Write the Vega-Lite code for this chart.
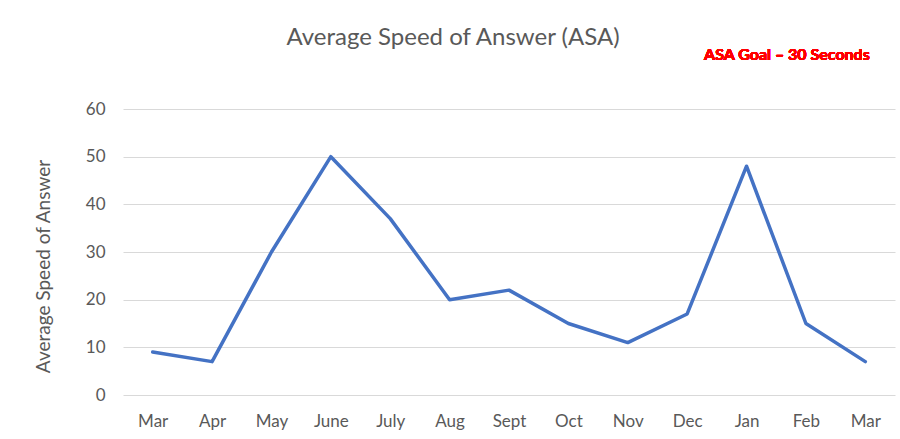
{
  "$schema": "https://vega.github.io/schema/vega-lite/v6.json",
  "width": 772,
  "height": 286,
  "autosize": "none",
  "padding": {"left": 123, "top": 109, "right": 5, "bottom": 44},
  "background": "white",
  "title": {
    "text": "Average Speed of Answer (ASA)",
    "anchor": "middle",
    "frame": "group",
    "dx": -56,
    "dy": 32,
    "offset": 10,
    "baseline": "alphabetic",
    "font": "Lato",
    "fontSize": 24,
    "fontWeight": "normal",
    "color": "#595959"
  },
  "config": {
    "view": {"stroke": null},
    "font": "Lato"
  },
  "data": {
    "values": [
      {"month": "Mar", "asa": 9},
      {"month": "Apr", "asa": 7},
      {"month": "May", "asa": 30},
      {"month": "June", "asa": 50},
      {"month": "July", "asa": 37},
      {"month": "Aug", "asa": 20},
      {"month": "Sept", "asa": 22},
      {"month": "Oct", "asa": 15},
      {"month": "Nov", "asa": 11},
      {"month": "Dec", "asa": 17},
      {"month": "Jan", "asa": 48},
      {"month": "Feb", "asa": 15},
      {"month": "Mar ", "asa": 7}
    ]
  },
  "layer": [
    {
      "mark": {"type": "line", "color": "#4472C4", "strokeWidth": 3.5, "strokeJoin": "round", "strokeCap": "round"},
      "encoding": {
        "x": {
          "field": "month",
          "type": "nominal",
          "sort": null,
          "scale": {"type": "point", "padding": 0.5},
          "axis": {
            "title": null,
            "labelAngle": 0,
            "domain": false,
            "ticks": false,
            "grid": false,
            "labelFontSize": 17,
            "labelColor": "#595959",
            "labelPadding": 18
          }
        },
        "y": {
          "field": "asa",
          "type": "quantitative",
          "scale": {"domain": [0, 60], "nice": false},
          "axis": {
            "title": "Average Speed of Answer",
            "values": [0, 10, 20, 30, 40, 50, 60],
            "domain": false,
            "ticks": false,
            "grid": true,
            "gridColor": "#d9d9d9",
            "gridWidth": 1,
            "labelFontSize": 17,
            "labelColor": "#595959",
            "labelPadding": 18,
            "titleFontSize": 19,
            "titleFontWeight": "normal",
            "titleColor": "#595959",
            "titleX": -80,
            "titleY": 157,
            "titleAlign": "center",
            "titleBaseline": "middle",
            "titleAngle": -90
          }
        }
      }
    },
    {
      "mark": {
        "type": "text",
        "text": "ASA Goal – 30 Seconds",
        "color": "#FF0000",
        "fontWeight": "bold",
        "fontSize": 16,
        "font": "Lato",
        "baseline": "middle",
        "align": "center",
        "dx": -19,
        "dy": 1
      },
      "encoding": {
        "x": {"datum": "Feb"},
        "y": {"datum": 71.5}
      }
    }
  ]
}
